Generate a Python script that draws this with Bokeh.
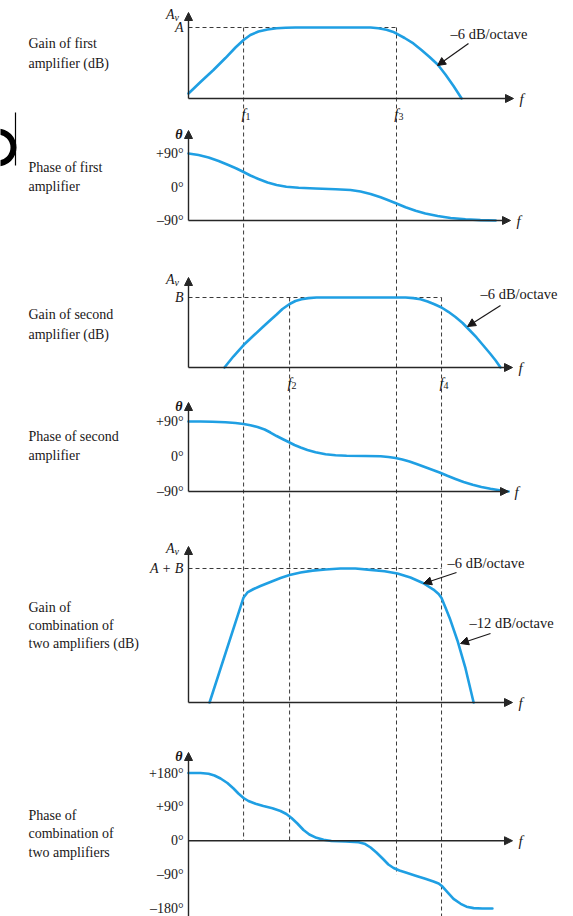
from bokeh.plotting import figure
from bokeh.models import Range1d, Arrow, NormalHead
from bokeh.core.properties import value
from bokeh.embed import file_html
from bokeh.resources import INLINE

# ---------------------------------------------------------------------------
# Data.  Frequency is in relative log-frequency units: 0 at the origin of the
# f axis, 10 at its arrow tip.  Gains are relative to the midband level
# (A, B or A + B = 1); phases are in degrees.
# ---------------------------------------------------------------------------
f_corners = [1.70, 3.12, 6.42, 7.81]          # f1, f2, f3, f4
f_subscripts = ["1", "2", "3", "4"]

gain1_f = [0, 0.37, 0.77, 1.14, 1.45, 1.70, 1.91, 2.16, 2.44, 2.72, 3.00,
           3.30, 5.62, 5.86, 6.11, 6.30, 6.42, 6.67, 6.94, 7.19, 7.44, 7.69,
           7.93, 8.18, 8.43]
gain1_v = [0.07, 0.232, 0.401, 0.570, 0.718, 0.824, 0.894, 0.944, 0.972,
           0.989, 0.997, 1.0, 1.0, 0.990, 0.968, 0.941, 0.915, 0.852, 0.775,
           0.683, 0.585, 0.479, 0.338, 0.176, 0.0]

phase1_f = [0, 0.31, 0.62, 0.93, 1.23, 1.48, 1.70, 1.91, 2.16, 2.44, 2.72,
            3.02, 3.40, 3.92, 4.54, 5.00, 5.31, 5.62, 5.93, 6.17, 6.42, 6.70,
            7.01, 7.31, 7.69, 8.09, 8.55, 9.01, 9.48]
phase1_v = [90, 86.0, 79.3, 69.8, 59.1, 49.7, 40.3, 30.9, 21.5, 12.1, 5.4,
            0.5, -2.2, -4.0, -5.9, -8.1, -12.1, -18.8, -27.7, -35.7, -44.4,
            -54.6, -64.0, -71.2, -77.9, -83.3, -86.8, -88.9, -90]

gain2_f = [1.11, 1.39, 1.70, 2.01, 2.31, 2.53, 2.72, 2.90, 3.12, 3.30, 3.49,
           3.70, 3.95, 4.23, 6.70, 6.94, 7.16, 7.38, 7.59, 7.81, 8.02, 8.24,
           8.46, 8.67, 8.89, 9.10, 9.32, 9.48, 9.63]
gain2_v = [0, 0.16, 0.321, 0.457, 0.586, 0.679, 0.757, 0.836, 0.907, 0.95,
           0.974, 0.991, 0.999, 1.0, 1.0, 0.991, 0.974, 0.943, 0.903, 0.857,
           0.796, 0.721, 0.636, 0.536, 0.429, 0.314, 0.193, 0.1, 0]

phase2_f = [0, 0.37, 0.74, 1.14, 1.45, 1.70, 1.91, 2.13, 2.35, 2.53, 2.72,
            2.90, 3.09, 3.27, 3.46, 3.67, 3.92, 4.23, 4.54, 4.88, 5.46, 5.93,
            6.17, 6.39, 6.60, 6.82, 7.04, 7.25, 7.50, 7.75, 7.99, 8.24, 8.49,
            8.77, 9.04, 9.32, 9.60, 9.88]
phase2_v = [90, 90, 89.2, 87.9, 86.1, 83.6, 80.2, 75.9, 69.4, 61.7, 52.7,
            45.0, 37.3, 29.6, 23.2, 16.7, 10.8, 5.7, 3.1, 1.8, 1.3, 0.5, -1.3,
            -3.8, -7.7, -12.8, -19.3, -25.7, -33.4, -41.1, -49.6, -57.8,
            -65.5, -72.7, -78.4, -83.0, -86.6, -90]

gain12_f = [0.65, 1.70, 1.82, 2.01, 2.22, 2.53, 2.84, 3.12, 3.46, 3.83, 4.23,
            4.69, 5.15, 5.62, 6.05, 6.45, 6.85, 7.25, 7.56, 7.72, 7.81, 7.93,
            8.06, 8.30, 8.55, 8.80]
gain12_v = [0, 0.784, 0.821, 0.847, 0.869, 0.899, 0.929, 0.951, 0.970, 0.984,
            0.993, 1.0, 1.0, 0.990, 0.979, 0.963, 0.933, 0.890, 0.843, 0.810,
            0.780, 0.709, 0.631, 0.463, 0.254, 0]

phase12_f = [0, 0.37, 0.62, 0.80, 0.99, 1.20, 1.39, 1.54, 1.70, 1.85, 2.07,
             2.31, 2.59, 2.84, 3.02, 3.18, 3.36, 3.55, 3.73, 3.95, 4.17, 4.41,
             4.85, 5.25, 5.43, 5.62, 5.80, 5.99, 6.17, 6.33, 6.51, 6.73, 7.01,
             7.31, 7.56, 7.72, 7.84, 7.99, 8.18, 8.40, 8.58, 8.80, 9.07, 9.38]
phase12_v = [180, 180, 178.1, 173.4, 165.4, 153.4, 138.8, 125.5, 113.6, 105.6,
             98.4, 92.3, 86.2, 79.0, 71.1, 60.4, 45.8, 28.6, 16.6, 7.8, 2.5,
             -0.7, -2.0, -3.9, -7.8, -17.9, -31.2, -47.2, -63.1, -72.4, -79.1,
             -85.2, -92.9, -101.1, -108.3, -113.6, -121.6, -136.2, -154.3,
             -167.5, -175.2, -179.0, -180, -180]

phase_ticks_90 = [90, 0, -90]
phase_labels_90 = ["+90°", "0°", "–90°"]
phase_ticks_180 = [180, 90, 0, -90, -180]
phase_labels_180 = ["+180°", "+90°", "0°", "–90°", "–180°"]

# ---------------------------------------------------------------------------
# Layout
# ---------------------------------------------------------------------------
W, H = 573, 916
FONT = value("Liberation Serif")
INK = "#1a1718"
AXIS = "#262626"
CURVE = "#1f9fe3"
GUIDE = "#3a3a3a"

ORIGIN_PX = 188.0      # horizontal position of every vertical axis
PX_PER_UNIT = 32.4     # horizontal pixels per frequency unit


def ux(px):
    return (px - ORIGIN_PX) / PX_PER_UNIT


def band(v_lo, px_lo, v_hi, px_hi):
    """Range spanning the whole page height so that v_lo sits at px_lo and
    v_hi at px_hi (pixels counted from the top)."""
    per_px = (v_hi - v_lo) / (px_lo - px_hi)
    return Range1d(start=v_lo - per_px * (H - px_lo), end=v_hi + per_px * px_hi)


def page_y(rng, v):
    return (rng.end - v) / (rng.end - rng.start) * H


ranges = {
    "g1": band(0, 98, 1, 27),
    "p1": band(-90, 220, 90, 153),
    "g2": band(0, 367, 1, 297),
    "p2": band(-90, 491, 90, 421),
    "g12": band(0, 702, 1, 568),
    "p12": band(-180, 908, 180, 772.5),
}

p = figure(width=W, height=H, x_range=Range1d(ux(0), ux(W)),
           y_range=Range1d(H, 0), x_axis_location=None, y_axis_location=None,
           toolbar_location=None, output_backend="svg", min_border=0)
p.extra_y_ranges = ranges
p.grid.visible = False
p.outline_line_color = None
p.background_fill_color = "white"
p.border_fill_color = "white"

txt = dict(text_font=FONT, text_color=INK, text_baseline="middle")

# ---- dashed guide lines --------------------------------------------------
top_a = page_y(ranges["g1"], 1)
top_b = page_y(ranges["g2"], 1)
c_zero = page_y(ranges["p12"], 0)
c_m90 = page_y(ranges["p12"], -90)
p.segment(x0=f_corners, x1=f_corners, y0=[top_a, top_b, top_a, top_b],
          y1=[c_zero, c_zero, c_m90, H], line_color=GUIDE, line_width=1,
          line_dash="4 3")
for name, f_end in (("g1", f_corners[2]), ("g2", f_corners[3]),
                    ("g12", f_corners[3])):
    p.segment(x0=[0], x1=[f_end], y0=[1], y1=[1], y_range_name=name,
              line_color=GUIDE, line_width=1, line_dash="4 3")

# ---- axes -----------------------------------------------------------------
# (range, level of the f axis, bottom of the vertical axis in px or None,
#  top of the vertical axis in px, tip of the f axis in px)
panels = [
    ("g1", 0, None, 12, 513),
    ("p1", -90, None, 130, 510),
    ("g2", 0, None, 277, 512),
    ("p2", -90, None, 402, 508),
    ("g12", 0, None, 546, 512),
    ("p12", 0, H, 752, 512),
]


def head():
    return NormalHead(size=8, fill_color=AXIS, line_color=AXIS, line_width=1)


for name, base, bottom, top, tip in panels:
    rng = ranges[name]
    y_bottom = page_y(rng, base) if bottom is None else bottom
    p.add_layout(Arrow(end=head(), x_start=0, y_start=y_bottom, x_end=0,
                       y_end=top, line_color=AXIS, line_width=1.4))
    p.add_layout(Arrow(end=head(), x_start=0, y_start=base, x_end=ux(tip),
                       y_end=base, y_range_name=name, line_color=AXIS,
                       line_width=1.4))
    p.text(x=[ux(tip + 6)], y=[base], text=["f"], y_range_name=name,
           text_font_size="15px", text_font_style="italic", text_align="left",
           **txt)
    if name.startswith("g"):
        p.text(x=[ux(174)], y=[top + 2], text=["A"], text_font_size="14px",
               text_font_style="italic", text_align="right", **txt)
        p.text(x=[ux(174)], y=[top + 5], text=["v"], text_font_size="10px",
               text_font_style="italic", text_align="left", **txt)
    else:
        p.text(x=[ux(182)], y=[top + 4], text=["θ"], text_font_size="14px",
               text_font_style="bold italic", text_align="right", **txt)

# ---- tick labels ------------------------------------------------------------
for name, level_text in (("g1", "A"), ("g2", "B"), ("g12", "A + B")):
    p.text(x=[ux(183)], y=[1], text=[level_text], y_range_name=name,
           text_font_size="14px", text_font_style="italic", text_align="right",
           **txt)
for name in ("p1", "p2"):
    p.text(x=[ux(183)] * 3, y=phase_ticks_90, text=phase_labels_90,
           y_range_name=name, text_font_size="14px", text_align="right", **txt)
p.text(x=[ux(183)] * 5, y=phase_ticks_180, text=phase_labels_180,
       y_range_name="p12", text_font_size="14px", text_align="right", **txt)

# corner-frequency labels under the two single-amplifier gain plots
for name, idx in (("g1", [0, 2]), ("g2", [1, 3])):
    y_lab = page_y(ranges[name], 0) + 15
    xs = [f_corners[i] + 2 / PX_PER_UNIT for i in idx]
    p.text(x=xs, y=[y_lab] * 2, text=["f"] * 2, text_font_size="15px",
           text_font_style="italic", text_align="right", **txt)
    p.text(x=xs, y=[y_lab + 3] * 2, text=[f_subscripts[i] for i in idx],
           text_font_size="10px", text_align="left", **txt)

# ---- response curves --------------------------------------------------------
for name, fx, vy in (("g1", gain1_f, gain1_v), ("p1", phase1_f, phase1_v),
                     ("g2", gain2_f, gain2_v), ("p2", phase2_f, phase2_v),
                     ("g12", gain12_f, gain12_v),
                     ("p12", phase12_f, phase12_v)):
    p.line(x=fx, y=vy, y_range_name=name, line_color=CURVE, line_width=2.6,
           line_join="round", line_cap="round")

# ---- slope callouts ---------------------------------------------------------
callouts = [
    ("–6 dB/octave", 450, 33, (468, 43), (437, 65)),
    ("–6 dB/octave", 480, 293, (500, 305), (467, 326)),
    ("–6 dB/octave", 447, 562, (456, 572), (423, 583)),
    ("–12 dB/octave", 469, 622, (490, 633), (460, 643)),
]
for label, lx, ly, (sx, sy), (ex, ey) in callouts:
    p.text(x=[ux(lx)], y=[ly], text=[label], text_font_size="14.5px",
           text_align="left", **txt)
    p.add_layout(Arrow(end=NormalHead(size=8, fill_color=INK, line_color=INK,
                                      line_width=1),
                       x_start=ux(sx), y_start=sy, x_end=ux(ex), y_end=ey,
                       line_color=INK, line_width=1.2))

# ---- row captions -------------------------------------------------------------
captions = [
    (["Gain of first", "amplifier (dB)"], [43, 63]),
    (["Phase of first", "amplifier"], [167, 186]),
    (["Gain of second", "amplifier (dB)"], [314, 334]),
    (["Phase of second", "amplifier"], [436, 455]),
    (["Gain of", "combination of", "two amplifiers (dB)"], [607, 625, 643]),
    (["Phase of", "combination of", "two amplifiers"], [815, 833, 852]),
]
for lines, ys in captions:
    p.text(x=[ux(28)] * len(lines), y=ys, text=lines, text_font_size="14px",
           text_align="left", **txt)

# ---- mark in the left margin ------------------------------------------------
p.annulus(x=[ux(-3)], y=[147], inner_radius=13 / PX_PER_UNIT,
          outer_radius=19 / PX_PER_UNIT, fill_color="black", line_color=None)
p.segment(x0=[ux(15)], x1=[ux(15)], y0=[112], y1=[165], line_color="black",
          line_width=1.2)

open("out.html", "w").write(file_html(p, INLINE))
